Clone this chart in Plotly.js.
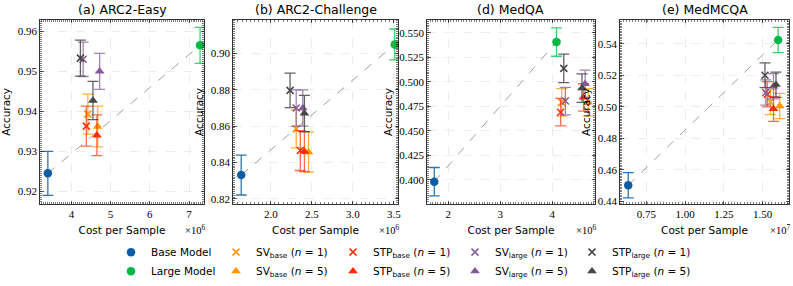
<!DOCTYPE html>
<html>
<head>
<meta charset="utf-8">
<script src="https://cdn.plot.ly/plotly-3.0.1.min.js"></script>
<style>html,body{margin:0;padding:0;background:#fff}#chart{width:793px;height:286px}</style>
</head>
<body>
<div id="chart"></div>
<script>
// Series order: Base, Large, SVbase n=1, SVbase n=5, STPbase n=1, STPbase n=5, SVlarge n=1, SVlarge n=5, STPlarge n=1, STPlarge n=5
const seriesNames = [
  'Base Model', 'Large Model',
  'SV<sub>base</sub> (<i>n</i> = 1)', 'SV<sub>base</sub> (<i>n</i> = 5)',
  'STP<sub>base</sub> (<i>n</i> = 1)', 'STP<sub>base</sub> (<i>n</i> = 5)',
  'SV<sub>large</sub> (<i>n</i> = 1)', 'SV<sub>large</sub> (<i>n</i> = 5)',
  'STP<sub>large</sub> (<i>n</i> = 1)', 'STP<sub>large</sub> (<i>n</i> = 5)'
];
const panelTitles = ['(a) ARC2-Easy', '(b) ARC2-Challenge', '(d) MedQA', '(e) MedMCQA'];
const costScaleLabels = ['×10<sup>6</sup>', '×10<sup>6</sup>', '×10<sup>6</sup>', '×10<sup>7</sup>'];

// (a) ARC2-Easy, cost in units of 1e6
const costA = [3.40, 7.28, 4.42, 4.67, 4.38, 4.65, 4.30, 4.72, 4.23, 4.55];
const accA  = [0.9245, 0.9565, 0.9393, 0.9362, 0.9363, 0.9340, 0.9530, 0.9500, 0.9533, 0.9427];
const errA  = [0.0055, 0.0045, 0.0050, 0.0051, 0.0050, 0.0051, 0.0043, 0.0045, 0.0045, 0.0048];
// (b) ARC2-Challenge, cost in units of 1e6
const costB = [1.64, 3.51, 2.31, 2.46, 2.36, 2.41, 2.31, 2.39, 2.235, 2.41];
const accB  = [0.8331, 0.9050, 0.8585, 0.8457, 0.8466, 0.8460, 0.8700, 0.8700, 0.8797, 0.8670];
const errB  = [0.0110, 0.0085, 0.0105, 0.0110, 0.0110, 0.0110, 0.0100, 0.0100, 0.0095, 0.0100];
// (d) MedQA, cost in units of 1e6
const costD = [1.73, 4.08, 4.18, 4.69, 4.16, 4.60, 4.25, 4.63, 4.22, 4.57];
const accD  = [0.398, 0.5406, 0.479, 0.479, 0.469, 0.484, 0.4803, 0.498, 0.5137, 0.4935];
const errD  = [0.0145, 0.0145, 0.014, 0.014, 0.014, 0.014, 0.014, 0.014, 0.0145, 0.0145];
// (e) MedMCQA, cost in units of 1e7
const costE = [0.633, 1.60, 1.55, 1.61, 1.53, 1.57, 1.52, 1.57, 1.515, 1.586];
const accE  = [0.4503, 0.5424, 0.503, 0.5005, 0.508, 0.4986, 0.509, 0.513, 0.520, 0.514];
const errE  = [0.008, 0.008, 0.008, 0.008, 0.008, 0.0078, 0.008, 0.008, 0.0078, 0.008];

const xTicksA = [4, 5, 6, 7];
const xTicksB = [2.0, 2.5, 3.0, 3.5];
const xTicksD = [2, 3, 4];
const xTicksE = [0.75, 1.00, 1.25, 1.50];
const yTicksA = [0.92, 0.93, 0.94, 0.95, 0.96];
const yTicksB = [0.82, 0.84, 0.86, 0.88, 0.90];
const yTicksD = [0.400, 0.425, 0.450, 0.475, 0.500, 0.525, 0.550];
const yTicksE = [0.44, 0.46, 0.48, 0.50, 0.52, 0.54];

const panels = [
  {cost: costA, acc: accA, err: errA, xt: xTicksA, yt: yTicksA, xd: 0, yd: 2, xr: [3.2, 7.38], yr: [0.9168, 0.9629], dom: [40, 204]},
  {cost: costB, acc: accB, err: errB, xt: xTicksB, yt: yTicksB, xd: 1, yd: 2, xr: [1.54, 3.55], yr: [0.8171, 0.9186], dom: [233, 398]},
  {cost: costD, acc: accD, err: errD, xt: xTicksD, yt: yTicksD, xd: 0, yd: 3, xr: [1.59, 4.82], yr: [0.3751, 0.5634], dom: [427, 595]},
  {cost: costE, acc: accE, err: errE, xt: xTicksE, yt: yTicksE, xd: 2, yd: 2, xr: [0.58, 1.67], yr: [0.4383, 0.5552], dom: [620, 789]}
];

const colors = ['#0C5DA5', '#00B945', '#FF9500', '#FF9500', '#FF2C00', '#FF2C00', '#845B97', '#845B97', '#474747', '#474747'];
const errColors = ['rgba(12,93,165,0.85)', 'rgba(0,185,69,0.75)', 'rgba(255,149,0,0.75)', 'rgba(255,149,0,0.75)',
  'rgba(255,44,0,0.7)', 'rgba(255,44,0,0.7)', 'rgba(132,91,151,0.75)', 'rgba(132,91,151,0.75)',
  'rgba(71,71,71,0.85)', 'rgba(71,71,71,0.85)'];
const symbols = ['circle', 'circle', 'x-thin-open', 'triangle-up', 'x-thin-open', 'triangle-up', 'x-thin-open', 'triangle-up', 'x-thin-open', 'triangle-up'];
const legendIds = ['legend', 'legend', 'legend2', 'legend2', 'legend3', 'legend3', 'legend4', 'legend4', 'legend5', 'legend5'];

const W = 793, H = 286;
const yDom = [1 - 207 / H, 1 - 20 / H];
const traces = [];
const layout = {
  width: W, height: H,
  margin: {l: 0, r: 0, t: 0, b: 0},
  paper_bgcolor: '#fff', plot_bgcolor: '#fff',
  font: {family: 'DejaVu Sans, sans-serif', size: 10, color: '#000'},
  annotations: [],
  showlegend: true
};

panels.forEach((p, k) => {
  const xa = k === 0 ? 'x' : 'x' + (k + 1);
  const ya = k === 0 ? 'y' : 'y' + (k + 1);
  // dashed connector base -> large
  traces.push({
    type: 'scatter', mode: 'lines', x: [p.cost[0], p.cost[1]], y: [p.acc[0], p.acc[1]],
    xaxis: xa, yaxis: ya, line: {color: '#a0a0a0', width: 1, dash: 'dash'},
    showlegend: false, hoverinfo: 'skip'
  });
  for (let i = 0; i < seriesNames.length; i++) {
    const isX = symbols[i].startsWith('x');
    traces.push({
      type: 'scatter', mode: 'markers', name: seriesNames[i],
      x: [p.cost[i]], y: [p.acc[i]], xaxis: xa, yaxis: ya, cliponaxis: false,
      legend: legendIds[i], showlegend: k === 0,
      marker: {symbol: symbols[i], color: colors[i], size: isX ? 7 : 8.5,
               line: {color: colors[i], width: isX ? 1.5 : 0}},
      error_y: {type: 'data', array: [p.err[i]], visible: true, color: errColors[i], thickness: 1.3, width: 5.5}
    });
  }
  const axBase = {
    showline: true, linecolor: '#000', linewidth: 0.8, mirror: 'ticks',
    ticks: 'inside', ticklen: 3.5, tickwidth: 0.6, tickcolor: '#000',
    showgrid: true, gridcolor: '#e4e4e4', griddash: 'dash', gridwidth: 0.7,
    zeroline: false,
    tickfont: {family: 'Liberation Serif, DejaVu Serif, serif', size: 11, color: '#000'},
    minor: {ticks: 'inside', ticklen: 2, tickwidth: 0.5, tickcolor: '#000', showgrid: false}
  };
  layout['xaxis' + (k === 0 ? '' : k + 1)] = Object.assign({}, axBase, {
    domain: [p.dom[0] / W, p.dom[1] / W], anchor: ya, range: p.xr,
    tickmode: 'array', tickvals: p.xt, ticktext: p.xt.map(v => v.toFixed(p.xd)),
    minor: Object.assign({}, axBase.minor, {nticks: 20}),
    title: {text: 'Cost per Sample', font: {size: 10.5, family: 'DejaVu Sans, sans-serif'}, standoff: 7}
  });
  layout['yaxis' + (k === 0 ? '' : k + 1)] = Object.assign({}, axBase, {
    domain: yDom, anchor: xa, range: p.yr,
    tickmode: 'array', tickvals: p.yt, ticktext: p.yt.map(v => v.toFixed(p.yd)),
    minor: Object.assign({}, axBase.minor, {nticks: 25}),
    title: {text: 'Accuracy', font: {size: 10.5, family: 'DejaVu Sans, sans-serif'}, standoff: 4}
  });
  layout.annotations.push({
    text: panelTitles[k], xref: 'paper', yref: 'paper',
    x: (p.dom[0] + p.dom[1]) / 2 / W, y: 1 - 10 / H, xanchor: 'center', yanchor: 'middle',
    showarrow: false, font: {size: 12.5, family: 'DejaVu Sans, sans-serif'}
  });
  layout.annotations.push({
    text: costScaleLabels[k], xref: 'paper', yref: 'paper',
    x: (p.dom[1] + 3) / W, y: 1 - 233 / H, xanchor: 'right', yanchor: 'middle',
    showarrow: false, font: {size: 10.5, family: 'Liberation Serif, DejaVu Serif, serif'}
  });
});

const legendX = [129, 234, 351, 473, 590];
['legend', 'legend2', 'legend3', 'legend4', 'legend5'].forEach((id, j) => {
  layout[id] = {
    x: (legendX[j] - 18) / W, y: 1 - 241 / H, xanchor: 'left', yanchor: 'top',
    orientation: 'v', bgcolor: 'rgba(0,0,0,0)', borderwidth: 0,
    font: {size: 10.5, family: 'DejaVu Sans, sans-serif', color: '#000'},
    tracegroupgap: 0, itemwidth: 30
  };
});

Plotly.newPlot('chart', traces, layout, {displayModeBar: false, staticPlot: true});
</script>
</body>
</html>
